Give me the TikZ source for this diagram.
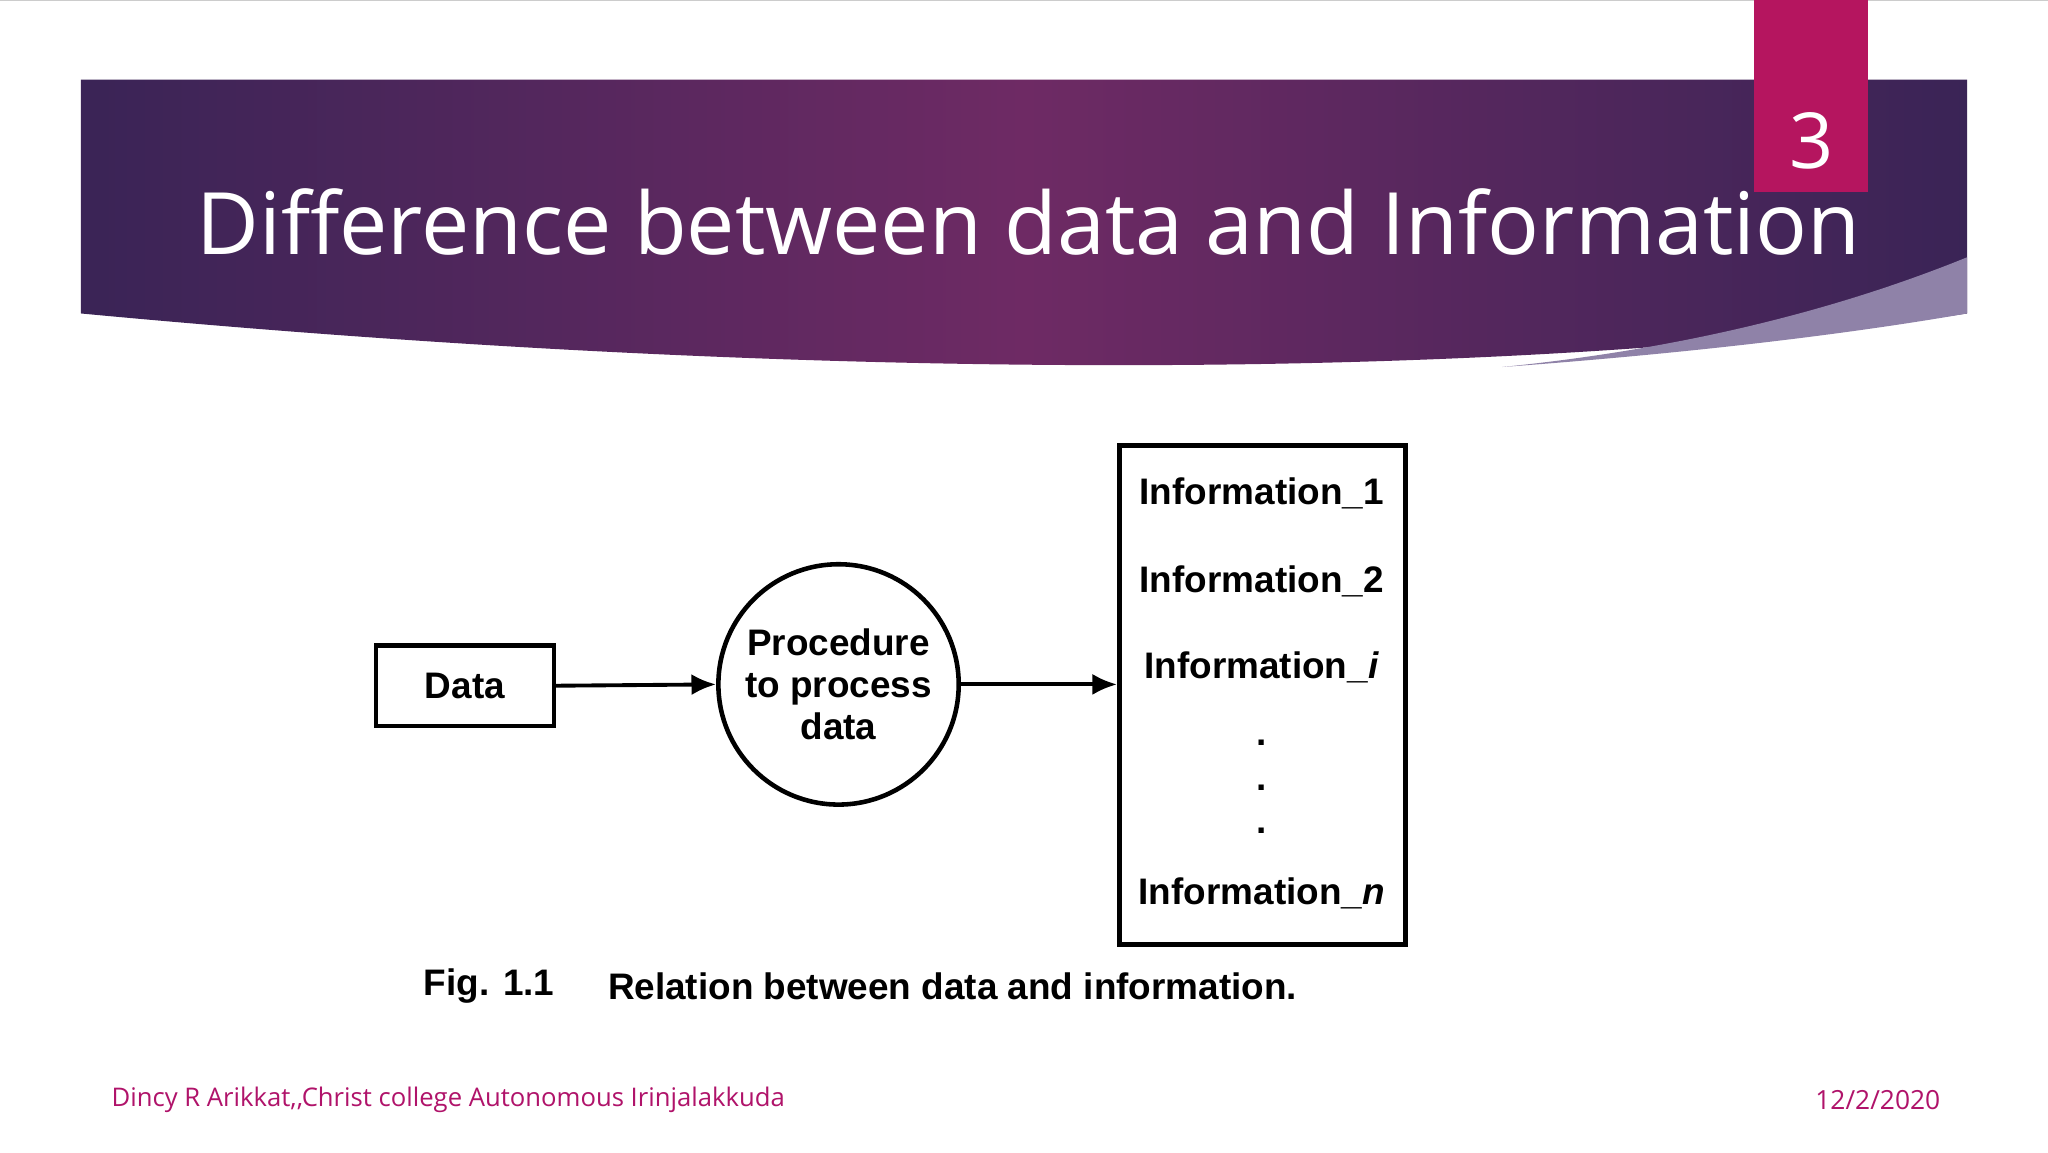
\documentclass[tikz,border=0pt]{standalone}
\usepackage{fontspec}
\setmainfont{Liberation Sans}
\newfontfamily\titlefont{Open Sans}
\usetikzlibrary{arrows.meta}
\definecolor{bandA}{HTML}{3A2456}
\definecolor{bandB}{HTML}{6E2A64}
\definecolor{tab}{HTML}{B5155F}
\definecolor{foot}{HTML}{B0136A}
\definecolor{lav}{HTML}{8F82A8}
\tikzset{
  dbox/.style={draw, line width=1.3pt, inner sep=0pt},
  lbl/.style={font=\bfseries\fontsize{10.5}{12.5}\selectfont, align=center},
  arr/.style={line width=1.1pt, -{Latex[length=7pt,width=6pt]}},
}
\begin{document}
\begin{tikzpicture}[x=0.1306mm,y=-0.1306mm]
\useasboundingbox (0,0) rectangle (1568,882);
\fill[white] (0,0) rectangle (1568,882);
\draw[gray!40] (0,0.5) -- (1568,0.5);
% banner
\shade[left color=bandA, right color=bandA, middle color=bandB]
  (62,61) -- (1506,61) -- (1506,240) .. controls (1200,285) and (700,300) .. (62,240) -- cycle;
\fill[lav] (1506,197) .. controls (1400,240) and (1280,268) .. (1150,281)
  .. controls (1300,270) and (1420,255) .. (1506,240) -- cycle;
\fill[tab] (1343,0) rectangle (1430,147);
\node[text=white, font=\titlefont\fontsize{22}{26}\selectfont] (num) at (1387,108) {3};
\node[text=white, anchor=base west, inner sep=0pt, font=\titlefont\fontsize{24.5}{28}\selectfont] (title) at (150,195) {Difference between data and Information};
% diagram
\node[dbox, minimum width=136*0.1306mm, minimum height=62*0.1306mm, lbl] (data) at (356,525) {Data};
\node[dbox, circle, minimum size=184*0.1306mm, lbl, font=\bfseries\fontsize{10.5}{12}\selectfont] (proc) at (642,524) {Procedure\\to process\\data};
\node[dbox, minimum width=219*0.1306mm, minimum height=382*0.1306mm] (info) at (966.5,532) {};
\node[lbl] (i1) at (966,378) {Information\_1};
\node[lbl] (i2) at (966,445) {Information\_2};
\node[lbl] (ii) at (966,511) {Information\_\textit{i}};
\node[lbl] (d1) at (966,569) {.};
\node[lbl] (d2) at (966,603) {.};
\node[lbl] (d3) at (966,636) {.};
\node[lbl] (in) at (966,684) {Information\_\textit{n}};
\draw[arr] (data.east) -- (proc.west);
\draw[arr] (proc.east) -- (info.west |- proc.east);
\node[lbl, anchor=west] (fig) at (315,755) {Fig. 1.1};
\node[lbl, anchor=west] (cap) at (456,755) {Relation between data and information.};
% footer
\node[anchor=west, text=foot, font=\titlefont\fontsize{7.3}{9}\selectfont, inner sep=0pt] (f1) at (85,842) {Dincy R Arikkat,,Christ college Autonomous Irinjalakkuda};
\node[anchor=east, text=foot, font=\titlefont\fontsize{7.5}{9}\selectfont, inner sep=0pt] (f2) at (1486,842) {12/2/2020};
\end{tikzpicture}
\end{document}
